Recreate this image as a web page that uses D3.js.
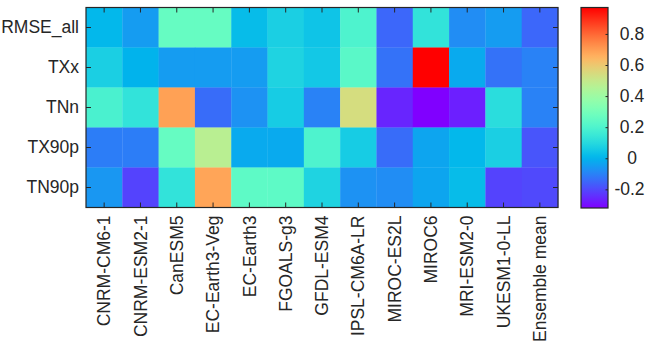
<!DOCTYPE html>
<html><head><meta charset="utf-8">
<script src="https://cdn.jsdelivr.net/npm/d3@7"></script>
<style>
body{margin:0;background:#fff}
text{font-family:Arial,"Liberation Sans",sans-serif;fill:#262626}
</style>
</head><body><svg id="c" width="645" height="344"></svg>
<script>
const models = ["CNRM-CM6-1","CNRM-ESM2-1","CanESM5","EC-Earth3-Veg","EC-Earth3","FGOALS-g3","GFDL-ESM4","IPSL-CM6A-LR","MIROC-ES2L","MIROC6","MRI-ESM2-0","UKESM1-0-LL","Ensemble mean"];
const indices = ["RMSE_all","TXx","TNn","TX90p","TN90p"];
const rmseAll = [0.01,-0.05,0.26,0.26,0.02,0.07,0.04,0.20,-0.15,0.13,-0.08,-0.05,-0.15];
const txx     = [0.07,0.00,-0.05,-0.05,-0.05,0.08,0.05,0.23,-0.13,0.97,-0.02,-0.13,-0.10];
const tnn     = [0.19,0.13,0.69,-0.14,-0.07,0.06,-0.10,0.54,-0.26,-0.32,-0.27,0.11,-0.10];
const tx90p   = [-0.11,-0.11,0.26,0.47,-0.02,-0.02,0.20,0.06,-0.14,-0.03,0.01,0.07,-0.18];
const tn90p   = [-0.06,-0.21,0.13,0.68,0.24,0.24,0.08,-0.07,-0.08,-0.03,0.02,-0.21,-0.20];
const seriesValues = [rmseAll, txx, tnn, tx90p, tn90p];
const cbTicks = [-0.2,0,0.2,0.4,0.6,0.8];
const cbTickLabels = ["-0.2","0","0.2","0.4","0.6","0.8"];
const cRange = [-0.32, 0.97];

function rainbow(t){
  t = Math.max(0, Math.min(1, t));
  const r = Math.min(1, Math.abs(2*t-0.5));
  const g = Math.sin(Math.PI*t);
  const b = Math.cos(Math.PI*t/2);
  return d3.rgb(r*255, g*255, b*255).toString();
}
const norm = d3.scaleLinear().domain(cRange).range([0,1]);
const color = v => rainbow(norm(v));

const svg = d3.select("#c");
const FS = "17.5px";
const X0 = 86, X1 = 558, Y0 = 7.5, Y1 = 207.5;
const x = d3.scaleBand().domain(models).range([X0, X1]);
const y = d3.scaleBand().domain(indices).range([Y0, Y1]);

const cells = [];
indices.forEach((r,i)=>models.forEach((m,j)=>cells.push({r, m, v: seriesValues[i][j]})));
svg.append("g").selectAll("rect").data(cells).join("rect")
  .attr("x", d=>x(d.m)).attr("y", d=>y(d.r))
  .attr("width", x.bandwidth()+0.3).attr("height", y.bandwidth()+0.3)
  .attr("fill", d=>color(d.v));

const axisColor = "#262626";
const tick = 5;
const gl = svg.append("g").attr("transform", `translate(${X0},0)`)
  .call(d3.axisLeft(y).tickSize(-tick).tickPadding(7));
svg.append("g").attr("transform", `translate(${X1},0)`)
  .call(d3.axisRight(y).tickSize(-tick).tickFormat(""));
const gb = svg.append("g").attr("transform", `translate(0,${Y1})`)
  .call(d3.axisBottom(x).tickSize(-tick).tickPadding(8));
svg.append("g").attr("transform", `translate(0,${Y0})`)
  .call(d3.axisTop(x).tickSize(-tick).tickFormat(""));
svg.selectAll(".domain").remove();
svg.selectAll(".tick line").attr("stroke", axisColor);
gl.selectAll("text").style("font-size",FS).attr("fill",axisColor);
gb.selectAll("text").style("font-size",FS).attr("fill",axisColor)
  .attr("transform","rotate(-90)").attr("text-anchor","end")
  .attr("x",-8).attr("y",0).attr("dy","0.35em");
svg.append("rect").attr("x",X0).attr("y",Y0).attr("width",X1-X0).attr("height",Y1-Y0)
  .attr("fill","none").attr("stroke",axisColor).attr("stroke-width",1.2);

// colorbar
const CX = 581, CW = 27, CY0 = 7.5, CY1 = 208;
const cy = d3.scaleLinear().domain(cRange).range([CY1, CY0]);
const defs = svg.append("defs");
const grad = defs.append("linearGradient").attr("id","cb").attr("x1",0).attr("y1",1).attr("x2",0).attr("y2",0);
d3.range(0,1.0001,0.02).forEach(t=>grad.append("stop").attr("offset",t).attr("stop-color",rainbow(t)));
svg.append("rect").attr("x",CX).attr("y",CY0).attr("width",CW).attr("height",CY1-CY0).attr("fill","url(#cb)");
const gc = svg.append("g").attr("transform",`translate(${CX+CW},0)`)
  .call(d3.axisRight(cy).tickValues(cbTicks).tickSize(-2.5).tickPadding(0)
    .tickFormat((d,i)=>cbTickLabels[i]));
gc.select(".domain").remove();
gc.selectAll(".tick line").attr("stroke",axisColor);
gc.selectAll("text").style("font-size",FS).attr("fill",axisColor)
  .attr("text-anchor","middle").attr("x",d=>d<0?21.5:24);
svg.append("rect").attr("x",CX).attr("y",CY0).attr("width",CW).attr("height",CY1-CY0)
  .attr("fill","none").attr("stroke",axisColor).attr("stroke-width",1.2);
</script></body></html>
